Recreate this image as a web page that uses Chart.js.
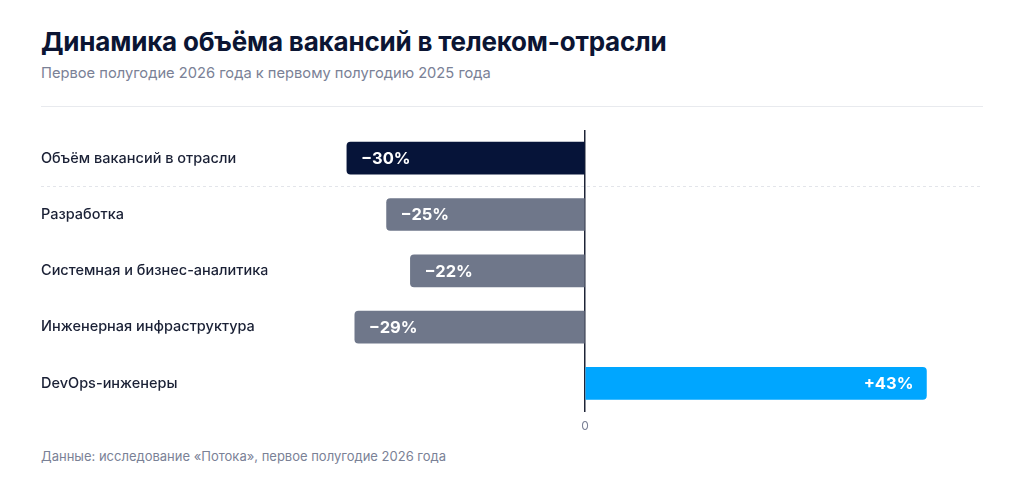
<!DOCTYPE html>
<html lang="ru">
<head>
<meta charset="utf-8">
<script src="https://cdn.jsdelivr.net/npm/chart.js@4"></script>
<style>
  html, body { margin: 0; padding: 0; background: #fff; }
  body { width: 1024px; height: 495px; position: relative; overflow: hidden; font-family: Inter, "Noto Sans", sans-serif; }
  h1 { position: absolute; left: 41px; top: 26px; margin: 0; font-size: 26px; font-weight: 700; color: #0b1533; letter-spacing: -0.2px; }
  .sub { position: absolute; left: 41px; top: 64px; font-size: 14.7px; color: #7a8196; }
  .rule { position: absolute; left: 41px; top: 106px; width: 942px; height: 1px; background: #e8eaee; }
  .wrap { position: absolute; left: 41px; top: 120px; width: 949px; height: 322px; }
  .foot { position: absolute; left: 41px; top: 448px; font-size: 13px; color: #7a8196; }
</style>
</head>
<body>
<h1>Динамика объёма вакансий в телеком-отрасли</h1>
<div class="sub">Первое полугодие 2026 года к первому полугодию 2025 года</div>
<div class="rule"></div>
<div class="wrap"><canvas id="chart"></canvas></div>
<div class="foot">Данные: исследование «Потока», первое полугодие 2026 года</div>

<script>
  // Изменение объёма вакансий, %
  const categories = [
    'Объём вакансий в отрасли',
    'Разработка',
    'Системная и бизнес-аналитика',
    'Инженерная инфраструктура',
    'DevOps-инженеры'
  ];
  const values = [-30, -25, -22, -29, 43];
  const barColors = ['#061439', '#6f778a', '#6f778a', '#6f778a', '#00a6ff'];

  const fmt = (v) => (v > 0 ? '+' : '−') + Math.abs(v) + '%';

  // value labels inside the bars
  const valueLabels = {
    id: 'valueLabels',
    afterDatasetsDraw(chart) {
      const { ctx } = chart;
      const meta = chart.getDatasetMeta(0);
      ctx.save();
      ctx.font = '700 16.5px Inter, sans-serif';
      ctx.fillStyle = '#ffffff';
      ctx.textBaseline = 'middle';
      meta.data.forEach((bar, i) => {
        const v = values[i];
        if (v < 0) {
          ctx.textAlign = 'left';
          ctx.fillText(fmt(v), bar.x + 14, bar.y + 1);
        } else {
          ctx.textAlign = 'right';
          ctx.fillText(fmt(v), bar.x - 13, bar.y + 1);
        }
      });
      ctx.restore();
    }
  };

  // dashed separator under the total row
  const separator = {
    id: 'separator',
    beforeDatasetsDraw(chart) {
      const { ctx } = chart;
      const y = chart.scales.y;
      const py = Math.round((y.getPixelForValue(0) + y.getPixelForValue(1)) / 2) + 0.5;
      ctx.save();
      ctx.strokeStyle = '#e3e5ea';
      ctx.lineWidth = 1;
      ctx.setLineDash([3, 3]);
      ctx.beginPath();
      ctx.moveTo(0, py);
      ctx.lineTo(942, py);
      ctx.stroke();
      ctx.restore();
    }
  };

  new Chart(document.getElementById('chart'), {
    type: 'bar',
    data: {
      labels: categories,
      datasets: [{
        data: values,
        backgroundColor: barColors,
        borderRadius: 4,
        barThickness: 32
      }]
    },
    plugins: [separator, valueLabels],
    options: {
      indexAxis: 'y',
      responsive: true,
      maintainAspectRatio: false,
      animation: false,
      layout: { padding: { top: 10, left: 0, right: 0, bottom: 0 } },
      plugins: {
        legend: { display: false },
        tooltip: { enabled: false }
      },
      scales: {
        x: {
          min: -40,
          max: 50,
          border: { display: false },
          grid: {
            drawTicks: false,
            lineWidth: (c) => c.tick && c.tick.value === 0 ? 1.5 : 0,
            color: (c) => c.tick && c.tick.value === 0 ? '#1e2437' : 'rgba(0,0,0,0)'
          },
          ticks: {
            stepSize: 10,
            padding: 8,
            color: '#7a8196',
            font: { family: 'Inter', size: 12 },
            callback: (v) => v === 0 ? '0' : ''
          }
        },
        y: {
          afterFit: (s) => { s.width = 226.5; },
          border: { display: false },
          grid: { display: false, drawTicks: false },
          ticks: {
            crossAlign: 'far',
            padding: 0,
            color: '#1a2035',
            font: { family: 'Inter', size: 14.5, weight: '500' }
          }
        }
      }
    }
  });
</script>
</body>
</html>
